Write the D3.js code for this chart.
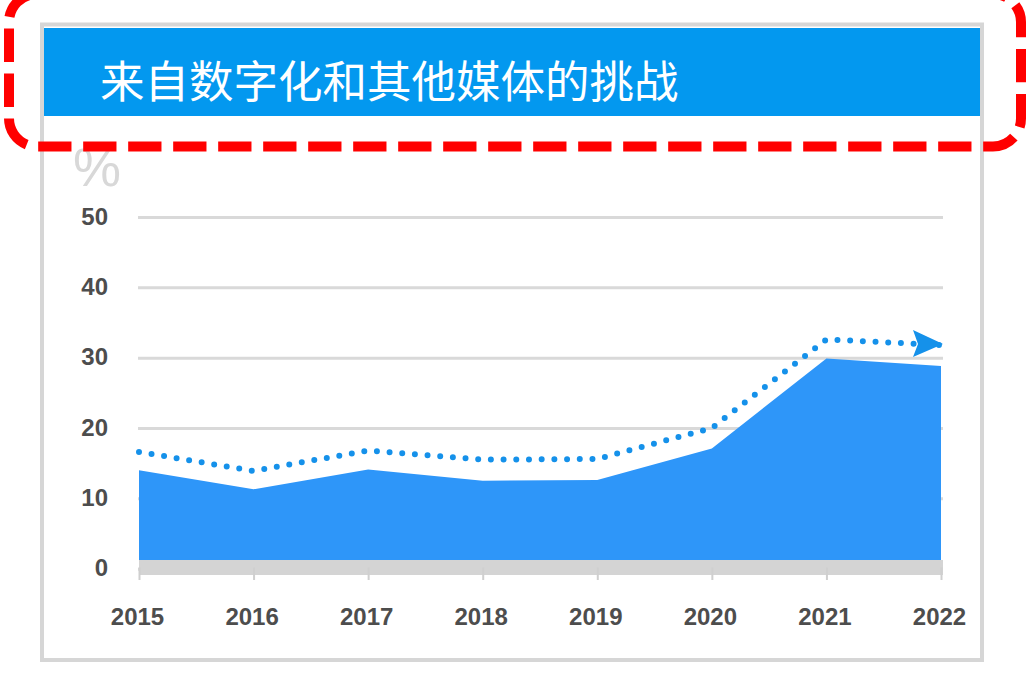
<!DOCTYPE html>
<html>
<head>
<meta charset="utf-8">
<script src="https://cdn.jsdelivr.net/npm/d3@7"></script>
<style>
  html, body { margin: 0; padding: 0; background: #ffffff; }
  svg { display: block; }
</style>
</head>
<body>
<svg id="chart" width="1027" height="686"></svg>
<script>
// ---- data ----
const titleText = "来自数字化和其他媒体的挑战";
const unitLabel = "%";
const years = [2015, 2016, 2017, 2018, 2019, 2020, 2021, 2022];
const shareValues = [14.0, 11.3, 14.1, 12.5, 12.6, 17.1, 29.9, 28.8];
const trendValues = [16.6, 13.9, 16.8, 15.5, 15.6, 20.0, 32.6, 31.8];
const yTicks = [0, 10, 20, 30, 40, 50];

// ---- layout ----
const svg = d3.select("#chart");
const plot = { left: 139, right: 941, top: 217, bottom: 568.7 };

const x = d3.scalePoint().domain(years).range([plot.left, plot.right]);
const y = d3.scaleLinear().domain([0, 50]).range([plot.bottom, plot.top]);

// outer frame
svg.append("rect")
  .attr("x", 42).attr("y", 24.5).attr("width", 940).attr("height", 635.5)
  .attr("fill", "#ffffff").attr("stroke", "#d6d6d6").attr("stroke-width", 4);

// title bar
svg.append("rect")
  .attr("x", 44).attr("y", 28).attr("width", 936).attr("height", 88)
  .attr("fill", "#0398ef");

svg.append("text")
  .attr("x", 100).attr("y", 98)
  .attr("font-family", "'Noto Sans CJK SC', sans-serif")
  .attr("font-size", 44.5)
  .attr("fill", "#ffffff")
  .text(titleText);

// gridlines
const grid = svg.append("g")
  .attr("transform", `translate(${plot.left - 1},0)`)
  .call(d3.axisRight(y).tickValues(yTicks).tickSize(805).tickFormat(""));
grid.select(".domain").remove();
grid.selectAll(".tick line").attr("stroke", "#d9d9d9").attr("stroke-width", 3);

// area
const area = d3.area()
  .x((d, i) => x(years[i]))
  .y0(y(0))
  .y1(d => y(d));
svg.append("path")
  .datum(shareValues)
  .attr("d", area)
  .attr("fill", "#2e96f9");

// x axis (thick grey band)
const xAxis = svg.append("g")
  .attr("transform", "translate(0,567.5)")
  .call(d3.axisBottom(x).tickSize(12.5).tickSizeOuter(0));
xAxis.select(".domain")
  .attr("stroke", "#d4d4d4").attr("stroke-width", 15)
  .attr("d", `M${plot.left},0H${plot.right + 2}`);
xAxis.selectAll(".tick line").attr("stroke", "#cfcfcf").attr("stroke-width", 2);
xAxis.selectAll(".tick text")
  .attr("y", 57.5).attr("dy", 0).attr("x", -2)
  .attr("font-family", "'Liberation Sans', Arial, sans-serif")
  .attr("font-weight", "bold")
  .attr("font-size", 24)
  .attr("fill", "#4d4d4d");

// y axis labels
const yAxis = svg.append("g")
  .attr("transform", "translate(108,0)")
  .call(d3.axisLeft(y).tickValues(yTicks).tickSize(0).tickPadding(0));
yAxis.select(".domain").remove();
yAxis.selectAll(".tick text")
  .attr("dy", "0.3em")
  .attr("font-family", "'Liberation Sans', Arial, sans-serif")
  .attr("font-weight", "bold")
  .attr("font-size", 24)
  .attr("fill", "#4d4d4d");

// dotted trend line
const line = d3.line()
  .x((d, i) => x(years[i]))
  .y(d => y(d));
svg.append("path")
  .datum(trendValues)
  .attr("d", line)
  .attr("fill", "none")
  .attr("stroke", "#1591ea")
  .attr("stroke-width", 6)
  .attr("stroke-linecap", "round")
  .attr("stroke-dasharray", "0 12.7");

// arrow head at trend end
const tipX = x(years[years.length - 1]) + 2;
const tipY = y(trendValues[trendValues.length - 1]) - 1;
svg.append("path")
  .attr("d", `M${tipX},${tipY} L${tipX - 30},${tipY - 14} L${tipX - 25},${tipY} L${tipX - 30},${tipY + 13} Z`)
  .attr("fill", "#1591ea");

// unit label
svg.append("text")
  .attr("x", 73).attr("y", 186)
  .attr("font-family", "'Liberation Sans', Arial, sans-serif")
  .attr("font-size", 54)
  .attr("fill", "#d8d8d8")
  .text(unitLabel);

// red dashed highlight box
const r = 28, L = 9, R = 1021, T = -6, B = 146.5;
svg.append("path")
  .attr("d", `M${L + r},${T} A${r},${r} 0 0 0 ${L},${T + r} L${L},${B - r} A${r},${r} 0 0 0 ${L + r},${B} L${R - r},${B} A${r},${r} 0 0 0 ${R},${B - r} L${R},${T + r} A${r},${r} 0 0 0 ${R - r},${T}`)
  .attr("fill", "none")
  .attr("stroke", "#ff0000")
  .attr("stroke-width", 10)
  .attr("stroke-dasharray", "33.3 11.7")
  .attr("stroke-dashoffset", 39.5);
</script>
</body>
</html>
